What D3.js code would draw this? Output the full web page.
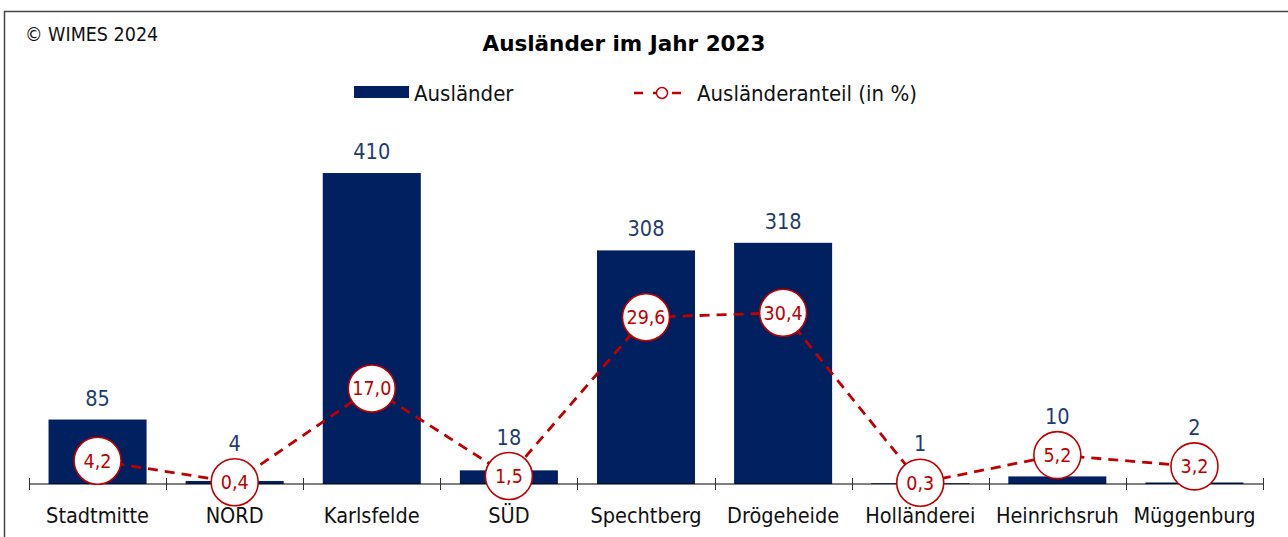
<!DOCTYPE html>
<html>
<head>
<meta charset="utf-8">
<script src="https://cdn.jsdelivr.net/npm/d3@7"></script>
<style>
  html, body { margin: 0; padding: 0; background: #fff; }
  svg { display: block; font-family: "DejaVu Sans Condensed", "DejaVu Sans", sans-serif; }
</style>
</head>
<body>
<svg id="chart"></svg>
<script>
const categories = ["Stadtmitte", "NORD", "Karlsfelde", "SÜD", "Spechtberg", "Drögeheide", "Holländerei", "Heinrichsruh", "Müggenburg"];
const auslaender = [85, 4, 410, 18, 308, 318, 1, 10, 2];
const anteil = [4.2, 0.4, 17.0, 1.5, 29.6, 30.4, 0.3, 5.2, 3.2];

const WIDTH = 1288, HEIGHT = 537;
const NAVY = "#002060", RED = "#C00000", LABEL = "#1F3C6E";
const R = 23.5;

const svg = d3.select("#chart")
    .attr("width", WIDTH)
    .attr("height", HEIGHT);

// frame
svg.append("path")
    .attr("d", `M4.5,${HEIGHT} V11.5 H${WIDTH}`)
    .attr("fill", "none")
    .attr("stroke", "#444")
    .attr("stroke-width", 1.5);

svg.append("text")
    .attr("x", 25).attr("y", 41)
    .attr("font-size", 19.5)
    .attr("fill", "#111")
    .text("© WIMES 2024");

svg.append("text")
    .attr("x", 624).attr("y", 51)
    .attr("text-anchor", "middle")
    .attr("font-family", "DejaVu Sans")
    .attr("font-size", 21.5)
    .attr("font-weight", "bold")
    .attr("fill", "#000")
    .text("Ausländer im Jahr 2023");

// scales
const x = d3.scaleBand()
    .domain(categories)
    .range([29, 1263])
    .paddingInner(0.285)
    .paddingOuter(0.1425);

const y = d3.scaleLinear()
    .domain([0, 450])
    .range([484, 142.7]);

const y2 = d3.scaleLinear()
    .domain([0, 35])
    .range([484.5, 286.75]);

// bars
svg.append("g")
    .selectAll("rect")
    .data(auslaender)
    .join("rect")
    .attr("x", (d, i) => x(categories[i]))
    .attr("y", d => y(d))
    .attr("width", x.bandwidth())
    .attr("height", d => y(0) - y(d))
    .attr("fill", NAVY);

// x axis
const axis = svg.append("g")
    .attr("transform", `translate(0,${y(0)})`);
axis.append("line")
    .attr("x1", 29).attr("x2", 1263)
    .attr("stroke", "#000").attr("stroke-width", 1);
const tickPos = d3.range(categories.length + 1).map(i => 29 + i * x.step());
axis.selectAll(".tick")
    .data(tickPos)
    .join("line")
    .attr("x1", d => Math.round(d) + 0.5).attr("x2", d => Math.round(d) + 0.5)
    .attr("y1", -6).attr("y2", 6)
    .attr("stroke", "#333");
axis.selectAll("text")
    .data(categories)
    .join("text")
    .attr("x", d => x(d) + x.bandwidth() / 2)
    .attr("y", 39)
    .attr("text-anchor", "middle")
    .attr("font-size", 21.5)
    .attr("fill", "#111")
    .text(d => d);

// bar value labels, lifted above the percentage circle where they would collide
svg.append("g")
    .selectAll("text")
    .data(auslaender)
    .join("text")
    .attr("x", (d, i) => x(categories[i]) + x.bandwidth() / 2)
    .attr("y", (d, i) => {
        const above = y(d) - 14;
        const circleTop = y2(anteil[i]) - R;
        return above > circleTop - 30 ? Math.min(above, circleTop - 8) : above;
    })
    .attr("text-anchor", "middle")
    .attr("font-size", 21.5)
    .attr("fill", LABEL)
    .text(d => d);

// line
const cx = (d, i) => x(categories[i]) + x.bandwidth() / 2;
const line = d3.line()
    .x(cx)
    .y(d => y2(d));

svg.append("path")
    .datum(anteil)
    .attr("d", line)
    .attr("fill", "none")
    .attr("stroke", RED)
    .attr("stroke-width", 2.8)
    .attr("stroke-dasharray", "10,7");

const pts = svg.append("g")
    .selectAll("g")
    .data(anteil)
    .join("g")
    .attr("transform", (d, i) => `translate(${cx(d, i)},${y2(d)})`);
pts.append("circle")
    .attr("r", R)
    .attr("fill", "#fff")
    .attr("stroke", RED)
    .attr("stroke-width", 1.6);
pts.append("text")
    .attr("y", 7)
    .attr("text-anchor", "middle")
    .attr("font-size", 19.5)
    .attr("fill", RED)
    .text(d => d3.format(".1f")(d).replace(".", ","));

// legend
const legend = svg.append("g");
legend.append("rect")
    .attr("x", 354).attr("y", 86)
    .attr("width", 55).attr("height", 12)
    .attr("fill", NAVY);
legend.append("text")
    .attr("x", 414).attr("y", 101)
    .attr("font-size", 22)
    .attr("fill", "#111")
    .text("Ausländer");
legend.append("line")
    .attr("x1", 634).attr("x2", 690).attr("y1", 93).attr("y2", 93)
    .attr("stroke", RED).attr("stroke-width", 2.5)
    .attr("stroke-dasharray", "9,10");
legend.append("circle")
    .attr("cx", 662).attr("cy", 93).attr("r", 5.5)
    .attr("fill", "#fff").attr("stroke", RED).attr("stroke-width", 1.5);
legend.append("text")
    .attr("x", 697).attr("y", 101)
    .attr("font-size", 22)
    .attr("fill", "#111")
    .text("Ausländeranteil (in %)");
</script>
</body>
</html>
